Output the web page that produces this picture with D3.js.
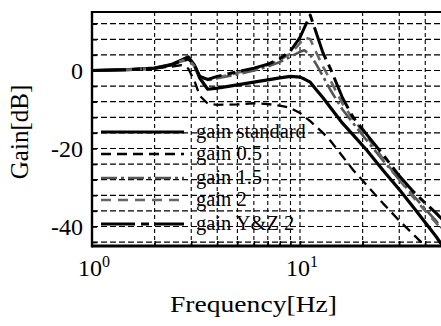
<!DOCTYPE html>
<html>
<head>
<meta charset="utf-8">
<script src="https://cdn.jsdelivr.net/npm/d3@7"></script>
<style>
  html, body { margin: 0; padding: 0; background: #fff; }
  svg { display: block; }
  text { font-family: "Liberation Serif", "Times New Roman", serif; fill: #000; }
</style>
</head>
<body>
<svg id="chart" width="441" height="326"></svg>
<script>
// Frequency samples [Hz] shared by every response curve
const freq = [1, 1.5, 2, 2.4, 2.7, 2.9, 3.1, 3.3, 3.6, 4, 5, 6, 7, 8, 9, 10, 10.5, 11.2, 12, 12.9, 14, 16, 18, 21, 25, 30, 35, 40, 45, 50];

// Gain [dB] of each configuration at the frequencies above
const gainStandard = [0, 0.2, 0.6, 1.5, 2.7, 3.5, 1.5, -2.0, -4.8, -4.5, -3.7, -3.0, -2.4, -1.9, -1.5, -1.7, -2.2, -3.0, -5.0, -7.0, -9.5, -13.5, -16.5, -20.5, -25.5, -30.5, -35, -39, -42.5, -46];
const gain05 = [0, 0.2, 0.5, 1.0, 1.4, 0.5, -2.5, -6.5, -8.5, -8.8, -8.7, -8.4, -8.6, -9.0, -9.6, -10.9, -11.8, -13, -14.5, -16, -18, -22, -25.5, -29.5, -34, -38.5, -42, -45, -48, -51];
const gain15 = [0, 0.2, 0.6, 1.4, 2.4, 2.8, 1.0, -1.5, -2.5, -2.0, -1.0, 0, 1.0, 2.2, 3.5, 4.8, 5.2, 4.0, 1.5, -1.5, -5.0, -10, -13.5, -18, -23, -28, -32, -35.5, -38.5, -41.5];
const gain2 = [0, 0.2, 0.6, 1.4, 2.5, 2.9, 1.2, -1.5, -2.4, -1.8, -0.6, 0.4, 1.4, 2.7, 4.3, 7.0, 8.5, 8.0, 4.5, 1.0, -2.5, -8.5, -12.5, -17, -22.5, -28, -32.5, -36, -39, -42];
const gainYZ2 = [0, 0.2, 0.6, 1.4, 2.6, 3.0, 1.5, -1.5, -2.3, -1.5, -0.3, 0.6, 1.6, 3.0, 5.0, 8.5, 11, 14.2, 9.5, 4.5, 0.5, -7, -12, -16.5, -21.5, -27, -31, -34, -36.5, -39];

const seriesNames = ["gain standard", "gain 0.5", "gain 1.5", "gain 2", "gain Y&Z 2"];
const seriesValues = [gainStandard, gain05, gain15, gain2, gainYZ2];

// Axis ticks
const xTickValues = [1, 10];
const xTickExponents = ["0", "1"];
const xGridValues = [2, 3, 4, 5, 6, 7, 8, 9, 10, 20, 30, 40];
const yTickValues = [0, -20, -40];
const yGridValues = d3.range(-44, 15, 4);

// Line styling per series
const styles = [
  { color: "#000", width: 3.2, dash: null },
  { color: "#000", width: 2.3, dash: "10,6" },
  { color: "#555", width: 2.6, dash: "16,4,3,4" },
  { color: "#666", width: 2.6, dash: "10,7" },
  { color: "#000", width: 3, dash: "34,6,8,6" }
];

const svg = d3.select("#chart");
const plot = { left: 92, top: 12, right: 445.4, bottom: 246 };

const x = d3.scaleLog().domain([1, 50]).range([plot.left, plot.right]);
const y = d3.scaleLinear().domain([-45, 15]).range([plot.bottom, plot.top]);

svg.append("defs").append("clipPath").attr("id", "clip")
  .append("rect")
  .attr("x", plot.left).attr("y", plot.top)
  .attr("width", plot.right - plot.left).attr("height", plot.bottom - plot.top);

// Dashed grid
const grid = svg.append("g");
grid.selectAll("line.h").data(yGridValues).join("line")
  .attr("x1", plot.left).attr("x2", plot.right)
  .attr("y1", d => y(d)).attr("y2", d => y(d))
  .attr("stroke", "#000").attr("stroke-width", 1.2)
  .attr("stroke-dasharray", "6,3");
grid.selectAll("line.v").data(xGridValues).join("line")
  .attr("x1", d => x(d)).attr("x2", d => x(d))
  .attr("y1", plot.top).attr("y2", plot.bottom)
  .attr("stroke", "#000").attr("stroke-width", 1.1)
  .attr("stroke-dasharray", "4,3");

// Response curves
const line = d3.line()
  .x((d, i) => x(freq[i]))
  .y(d => y(d));

const curves = svg.append("g").attr("clip-path", "url(#clip)");
seriesValues.forEach((vals, k) => {
  const s = styles[k];
  curves.append("path")
    .datum(vals)
    .attr("d", line)
    .attr("fill", "none")
    .attr("stroke", s.color)
    .attr("stroke-width", s.width)
    .attr("stroke-dasharray", s.dash)
    .attr("stroke-linejoin", "round");
});

// Legend (no box, drawn over the grid)
const legendRowsY = [132, 154, 178, 200, 224];
const legend = svg.append("g");
seriesNames.forEach((name, k) => {
  const s = styles[k];
  legend.append("line")
    .attr("x1", 101).attr("x2", 184)
    .attr("y1", legendRowsY[k]).attr("y2", legendRowsY[k])
    .attr("stroke", s.color).attr("stroke-width", s.width)
    .attr("stroke-dasharray", s.dash);
  legend.append("text")
    .attr("x", 196).attr("y", legendRowsY[k] + 6)
    .attr("font-size", 20.5)
    .text(name);
});

// Axis frame: ticks inward along left and bottom
const yAxis = d3.axisLeft(y).tickValues(yGridValues).tickSize(-5).tickFormat("");
svg.append("g").attr("transform", `translate(${plot.left},0)`).call(yAxis)
  .call(g => g.select(".domain").remove())
  .call(g => g.selectAll("line").attr("stroke-width", 1.5));
const xAxis = d3.axisBottom(x).tickValues(xGridValues).tickSize(-5).tickFormat("");
svg.append("g").attr("transform", `translate(0,${plot.bottom})`).call(xAxis)
  .call(g => g.select(".domain").remove())
  .call(g => g.selectAll("line").attr("stroke-width", 1.5));

svg.append("line").attr("x1", plot.left).attr("x2", plot.right)
  .attr("y1", plot.top).attr("y2", plot.top).attr("stroke", "#000").attr("stroke-width", 2.2);
svg.append("line").attr("x1", plot.left).attr("x2", plot.right)
  .attr("y1", plot.bottom).attr("y2", plot.bottom).attr("stroke", "#000").attr("stroke-width", 3);
svg.append("line").attr("x1", plot.left).attr("x2", plot.left)
  .attr("y1", plot.top - 1).attr("y2", plot.bottom + 1.5).attr("stroke", "#000").attr("stroke-width", 2.4);

// Tick labels
svg.selectAll("text.ytl").data(yTickValues).join("text")
  .attr("x", 83).attr("y", d => y(d) + 8.5)
  .attr("text-anchor", "end").attr("font-size", 24)
  .text(d => d === 0 ? "0" : "-" + Math.abs(d));

xTickValues.forEach((v, i) => {
  const t = svg.append("text")
    .attr("x", x(v) - 14).attr("y", 276)
    .attr("font-size", 24);
  t.append("tspan").text("10");
  t.append("tspan").attr("font-size", 16).attr("dy", -9).text(xTickExponents[i]);
});

// Axis titles
svg.append("text")
  .attr("x", 170).attr("y", 312)
  .attr("font-size", 23)
  .attr("textLength", 167).attr("lengthAdjust", "spacingAndGlyphs")
  .text("Frequency[Hz]");
svg.append("text")
  .attr("transform", "translate(28,132) rotate(-90)")
  .attr("text-anchor", "middle")
  .attr("font-size", 25)
  .text("Gain[dB]");
</script>
</body>
</html>
